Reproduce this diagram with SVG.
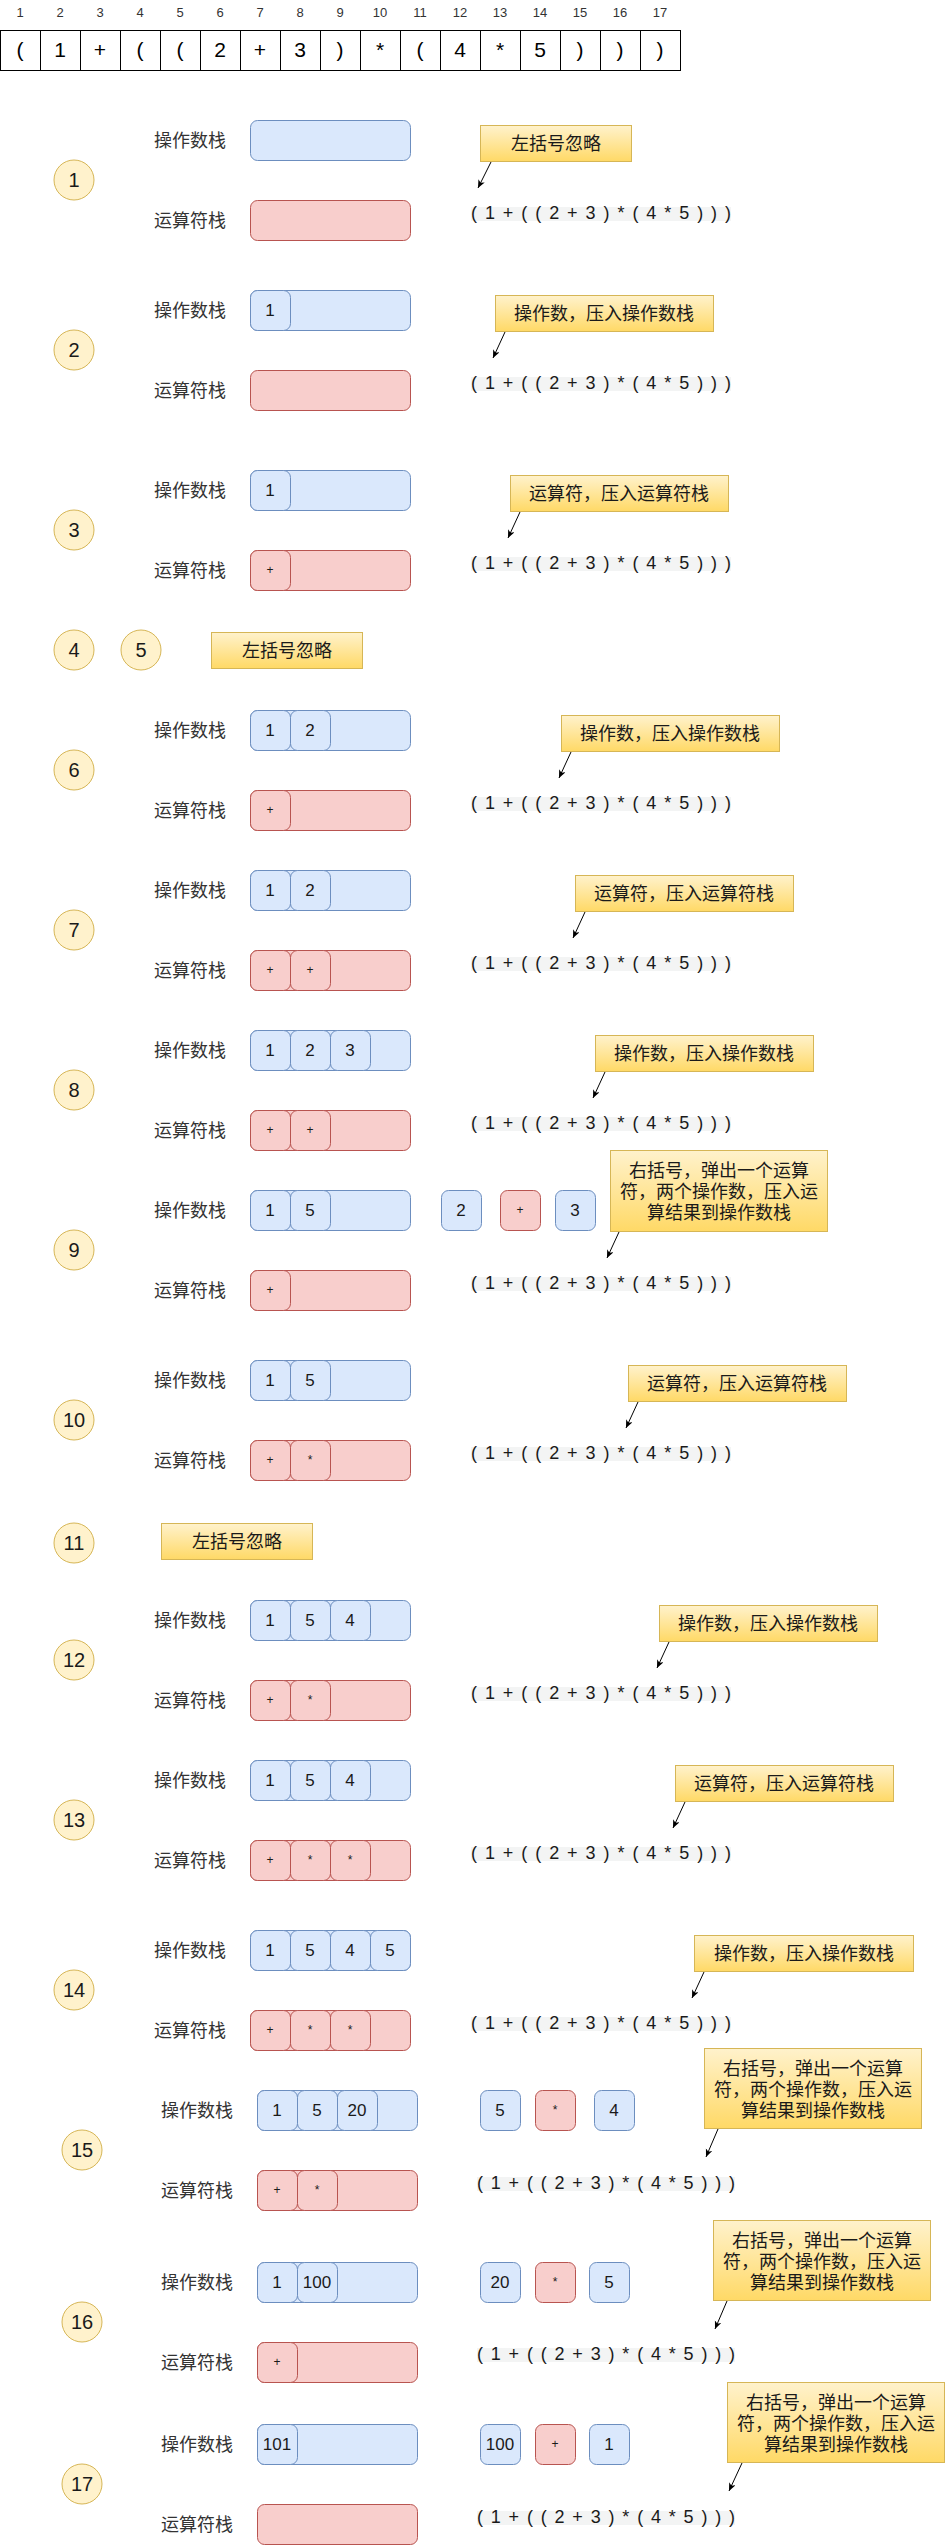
<svg xmlns="http://www.w3.org/2000/svg" width="946" height="2545" viewBox="0 0 946 2545">
<defs>
  <linearGradient id="noteFill" x1="0" y1="0" x2="0" y2="1">
    <stop offset="0" stop-color="#fff2cc"/>
    <stop offset="1" stop-color="#ffd966"/>
  </linearGradient>
  <marker id="arrow" markerUnits="userSpaceOnUse" markerWidth="10" markerHeight="10" refX="8" refY="3.5" orient="auto">
    <path d="M0,0 L8,3.5 L0,7 L2.2,3.5 Z" fill="#000"/>
  </marker>
</defs>
<style>
  text { font-family: "Liberation Sans", "Noto Sans CJK SC", sans-serif; }
  .idx { font-size: 13px; fill: #333; text-anchor: middle; }
  .tok { font-size: 21px; fill: #000; text-anchor: middle; }
  .seq { fill: #fff; stroke: #000; stroke-width: 1; }
  .lbl { font-size: 18px; fill: #333; text-anchor: middle; }
  .step { fill: #fff2cc; stroke: #d6b656; stroke-width: 1; }
  .stepn { font-size: 20px; fill: #1a1a1a; text-anchor: middle; }
  .opnd { fill: #dae8fc; stroke: #6c8ebf; stroke-width: 1; }
  .oper { fill: #f8cecc; stroke: #b85450; stroke-width: 1; }
  .dv { font-size: 17px; fill: #1a1a1a; text-anchor: middle; }
  .ov { font-size: 12px; fill: #1a1a1a; text-anchor: middle; }
  .note { fill: url(#noteFill); stroke: #d6b656; stroke-width: 1; }
  .nt { font-size: 18px; fill: #1a1a1a; text-anchor: middle; }
  .band { fill: #f3f4f4; }
  .expr { font-size: 18px; fill: #1a1a1a; }
  .link { stroke: #000; stroke-width: 1; fill: none; marker-end: url(#arrow); }
</style>
<rect width="946" height="2545" fill="#fff"/>

<!-- input token sequence -->
<g id="sequence">
  <text class="idx" x="20" y="17">1</text><text class="idx" x="60" y="17">2</text><text class="idx" x="100" y="17">3</text><text class="idx" x="140" y="17">4</text><text class="idx" x="180" y="17">5</text><text class="idx" x="220" y="17">6</text><text class="idx" x="260" y="17">7</text><text class="idx" x="300" y="17">8</text><text class="idx" x="340" y="17">9</text><text class="idx" x="380" y="17">10</text><text class="idx" x="420" y="17">11</text><text class="idx" x="460" y="17">12</text><text class="idx" x="500" y="17">13</text><text class="idx" x="540" y="17">14</text><text class="idx" x="580" y="17">15</text><text class="idx" x="620" y="17">16</text><text class="idx" x="660" y="17">17</text>
  <rect class="seq" x="0.5" y="30.5" width="40" height="40"/><rect class="seq" x="40.5" y="30.5" width="40" height="40"/><rect class="seq" x="80.5" y="30.5" width="40" height="40"/><rect class="seq" x="120.5" y="30.5" width="40" height="40"/><rect class="seq" x="160.5" y="30.5" width="40" height="40"/><rect class="seq" x="200.5" y="30.5" width="40" height="40"/><rect class="seq" x="240.5" y="30.5" width="40" height="40"/><rect class="seq" x="280.5" y="30.5" width="40" height="40"/><rect class="seq" x="320.5" y="30.5" width="40" height="40"/><rect class="seq" x="360.5" y="30.5" width="40" height="40"/><rect class="seq" x="400.5" y="30.5" width="40" height="40"/><rect class="seq" x="440.5" y="30.5" width="40" height="40"/><rect class="seq" x="480.5" y="30.5" width="40" height="40"/><rect class="seq" x="520.5" y="30.5" width="40" height="40"/><rect class="seq" x="560.5" y="30.5" width="40" height="40"/><rect class="seq" x="600.5" y="30.5" width="40" height="40"/><rect class="seq" x="640.5" y="30.5" width="40" height="40"/>
  <text class="tok" x="20" y="57">(</text><text class="tok" x="60" y="57">1</text><text class="tok" x="100" y="57">+</text><text class="tok" x="140" y="57">(</text><text class="tok" x="180" y="57">(</text><text class="tok" x="220" y="57">2</text><text class="tok" x="260" y="57">+</text><text class="tok" x="300" y="57">3</text><text class="tok" x="340" y="57">)</text><text class="tok" x="380" y="57">*</text><text class="tok" x="420" y="57">(</text><text class="tok" x="460" y="57">4</text><text class="tok" x="500" y="57">*</text><text class="tok" x="540" y="57">5</text><text class="tok" x="580" y="57">)</text><text class="tok" x="620" y="57">)</text><text class="tok" x="660" y="57">)</text>
</g>

<!-- step 1 -->
<g id="step1">
  <circle class="step" cx="74" cy="180" r="20"/><text class="stepn" x="74" y="187">1</text>
  <text class="lbl" x="190" y="146.5">操作数栈</text><text class="lbl" x="190" y="226.5">运算符栈</text>
  <rect class="opnd" x="250.5" y="120.5" width="160" height="40" rx="7"/>
  <rect class="oper" x="250.5" y="200.5" width="160" height="40" rx="7"/>
  <rect class="note" x="480.5" y="125.5" width="151" height="36"/><text class="nt" x="556" y="149.5">左括号忽略</text>
  <rect class="band" x="471" y="207" width="260" height="14"/><text class="expr" x="471" y="218.5" textLength="260" lengthAdjust="spacing">( 1 + ( ( 2 + 3 ) * ( 4 * 5 ) ) )</text>
</g>

<!-- step 2 -->
<g id="step2">
  <circle class="step" cx="74" cy="350" r="20"/><text class="stepn" x="74" y="357">2</text>
  <text class="lbl" x="190" y="316.5">操作数栈</text><text class="lbl" x="190" y="396.5">运算符栈</text>
  <rect class="opnd" x="250.5" y="290.5" width="160" height="40" rx="7"/>
  <rect class="opnd" x="250.5" y="290.5" width="40" height="40" rx="7"/><text class="dv" x="270" y="316">1</text>
  <rect class="oper" x="250.5" y="370.5" width="160" height="40" rx="7"/>
  <rect class="note" x="495.5" y="295.5" width="218" height="36"/><text class="nt" x="604" y="319.5">操作数，压入操作数栈</text>
  <rect class="band" x="471" y="377" width="260" height="14"/><text class="expr" x="471" y="388.5" textLength="260" lengthAdjust="spacing">( 1 + ( ( 2 + 3 ) * ( 4 * 5 ) ) )</text>
</g>

<!-- step 3 -->
<g id="step3">
  <circle class="step" cx="74" cy="530" r="20"/><text class="stepn" x="74" y="537">3</text>
  <text class="lbl" x="190" y="496.5">操作数栈</text><text class="lbl" x="190" y="576.5">运算符栈</text>
  <rect class="opnd" x="250.5" y="470.5" width="160" height="40" rx="7"/>
  <rect class="opnd" x="250.5" y="470.5" width="40" height="40" rx="7"/><text class="dv" x="270" y="496">1</text>
  <rect class="oper" x="250.5" y="550.5" width="160" height="40" rx="7"/>
  <rect class="oper" x="250.5" y="550.5" width="40" height="40" rx="7"/><text class="ov" x="270" y="574">+</text>
  <rect class="note" x="510.5" y="475.5" width="218" height="36"/><text class="nt" x="619" y="499.5">运算符，压入运算符栈</text>
  <rect class="band" x="471" y="557" width="260" height="14"/><text class="expr" x="471" y="568.5" textLength="260" lengthAdjust="spacing">( 1 + ( ( 2 + 3 ) * ( 4 * 5 ) ) )</text>
</g>

<!-- steps 4 and 5 -->
<g id="step4">
  <circle class="step" cx="74" cy="650" r="20"/><text class="stepn" x="74" y="657">4</text>
</g>
<g id="step5">
  <circle class="step" cx="141" cy="650" r="20"/><text class="stepn" x="141" y="657">5</text>
  <rect class="note" x="211.5" y="632.5" width="151" height="36"/><text class="nt" x="287" y="656.5">左括号忽略</text>
</g>

<!-- step 6 -->
<g id="step6">
  <circle class="step" cx="74" cy="770" r="20"/><text class="stepn" x="74" y="777">6</text>
  <text class="lbl" x="190" y="736.5">操作数栈</text><text class="lbl" x="190" y="816.5">运算符栈</text>
  <rect class="opnd" x="250.5" y="710.5" width="160" height="40" rx="7"/>
  <rect class="opnd" x="250.5" y="710.5" width="40" height="40" rx="7"/><text class="dv" x="270" y="736">1</text>
  <rect class="opnd" x="290.5" y="710.5" width="40" height="40" rx="7"/><text class="dv" x="310" y="736">2</text>
  <rect class="oper" x="250.5" y="790.5" width="160" height="40" rx="7"/>
  <rect class="oper" x="250.5" y="790.5" width="40" height="40" rx="7"/><text class="ov" x="270" y="814">+</text>
  <rect class="note" x="561.5" y="715.5" width="218" height="36"/><text class="nt" x="670" y="739.5">操作数，压入操作数栈</text>
  <rect class="band" x="471" y="797" width="260" height="14"/><text class="expr" x="471" y="808.5" textLength="260" lengthAdjust="spacing">( 1 + ( ( 2 + 3 ) * ( 4 * 5 ) ) )</text>
</g>

<!-- step 7 -->
<g id="step7">
  <circle class="step" cx="74" cy="930" r="20"/><text class="stepn" x="74" y="937">7</text>
  <text class="lbl" x="190" y="896.5">操作数栈</text><text class="lbl" x="190" y="976.5">运算符栈</text>
  <rect class="opnd" x="250.5" y="870.5" width="160" height="40" rx="7"/>
  <rect class="opnd" x="250.5" y="870.5" width="40" height="40" rx="7"/><text class="dv" x="270" y="896">1</text>
  <rect class="opnd" x="290.5" y="870.5" width="40" height="40" rx="7"/><text class="dv" x="310" y="896">2</text>
  <rect class="oper" x="250.5" y="950.5" width="160" height="40" rx="7"/>
  <rect class="oper" x="250.5" y="950.5" width="40" height="40" rx="7"/><text class="ov" x="270" y="974">+</text>
  <rect class="oper" x="290.5" y="950.5" width="40" height="40" rx="7"/><text class="ov" x="310" y="974">+</text>
  <rect class="note" x="575.5" y="875.5" width="218" height="36"/><text class="nt" x="684" y="899.5">运算符，压入运算符栈</text>
  <rect class="band" x="471" y="957" width="260" height="14"/><text class="expr" x="471" y="968.5" textLength="260" lengthAdjust="spacing">( 1 + ( ( 2 + 3 ) * ( 4 * 5 ) ) )</text>
</g>

<!-- step 8 -->
<g id="step8">
  <circle class="step" cx="74" cy="1090" r="20"/><text class="stepn" x="74" y="1097">8</text>
  <text class="lbl" x="190" y="1056.5">操作数栈</text><text class="lbl" x="190" y="1136.5">运算符栈</text>
  <rect class="opnd" x="250.5" y="1030.5" width="160" height="40" rx="7"/>
  <rect class="opnd" x="250.5" y="1030.5" width="40" height="40" rx="7"/><text class="dv" x="270" y="1056">1</text>
  <rect class="opnd" x="290.5" y="1030.5" width="40" height="40" rx="7"/><text class="dv" x="310" y="1056">2</text>
  <rect class="opnd" x="330.5" y="1030.5" width="40" height="40" rx="7"/><text class="dv" x="350" y="1056">3</text>
  <rect class="oper" x="250.5" y="1110.5" width="160" height="40" rx="7"/>
  <rect class="oper" x="250.5" y="1110.5" width="40" height="40" rx="7"/><text class="ov" x="270" y="1134">+</text>
  <rect class="oper" x="290.5" y="1110.5" width="40" height="40" rx="7"/><text class="ov" x="310" y="1134">+</text>
  <rect class="note" x="595.5" y="1035.5" width="218" height="36"/><text class="nt" x="704" y="1059.5">操作数，压入操作数栈</text>
  <rect class="band" x="471" y="1117" width="260" height="14"/><text class="expr" x="471" y="1128.5" textLength="260" lengthAdjust="spacing">( 1 + ( ( 2 + 3 ) * ( 4 * 5 ) ) )</text>
</g>

<!-- step 9 -->
<g id="step9">
  <circle class="step" cx="74" cy="1250" r="20"/><text class="stepn" x="74" y="1257">9</text>
  <text class="lbl" x="190" y="1216.5">操作数栈</text><text class="lbl" x="190" y="1296.5">运算符栈</text>
  <rect class="opnd" x="250.5" y="1190.5" width="160" height="40" rx="7"/>
  <rect class="opnd" x="250.5" y="1190.5" width="40" height="40" rx="7"/><text class="dv" x="270" y="1216">1</text>
  <rect class="opnd" x="290.5" y="1190.5" width="40" height="40" rx="7"/><text class="dv" x="310" y="1216">5</text>
  <rect class="oper" x="250.5" y="1270.5" width="160" height="40" rx="7"/>
  <rect class="oper" x="250.5" y="1270.5" width="40" height="40" rx="7"/><text class="ov" x="270" y="1294">+</text>
  <rect class="opnd" x="441.5" y="1190.5" width="40" height="40" rx="7"/><text class="dv" x="461" y="1216">2</text>
  <rect class="oper" x="500.5" y="1190.5" width="40" height="40" rx="7"/><text class="ov" x="520" y="1214">+</text>
  <rect class="opnd" x="555.5" y="1190.5" width="40" height="40" rx="7"/><text class="dv" x="575" y="1216">3</text>
  <rect class="note" x="610.5" y="1150.5" width="217" height="81"/>
  <text class="nt" x="719" y="1176.5">右括号，弹出一个运算</text><text class="nt" x="719" y="1197.5">符，两个操作数，压入运</text><text class="nt" x="719" y="1218.5">算结果到操作数栈</text>
  <rect class="band" x="471" y="1277" width="260" height="14"/><text class="expr" x="471" y="1288.5" textLength="260" lengthAdjust="spacing">( 1 + ( ( 2 + 3 ) * ( 4 * 5 ) ) )</text>
</g>

<!-- step 10 -->
<g id="step10">
  <circle class="step" cx="74" cy="1420" r="20"/><text class="stepn" x="74" y="1427">10</text>
  <text class="lbl" x="190" y="1386.5">操作数栈</text><text class="lbl" x="190" y="1466.5">运算符栈</text>
  <rect class="opnd" x="250.5" y="1360.5" width="160" height="40" rx="7"/>
  <rect class="opnd" x="250.5" y="1360.5" width="40" height="40" rx="7"/><text class="dv" x="270" y="1386">1</text>
  <rect class="opnd" x="290.5" y="1360.5" width="40" height="40" rx="7"/><text class="dv" x="310" y="1386">5</text>
  <rect class="oper" x="250.5" y="1440.5" width="160" height="40" rx="7"/>
  <rect class="oper" x="250.5" y="1440.5" width="40" height="40" rx="7"/><text class="ov" x="270" y="1464">+</text>
  <rect class="oper" x="290.5" y="1440.5" width="40" height="40" rx="7"/><text class="ov" x="310" y="1464">*</text>
  <rect class="note" x="628.5" y="1365.5" width="218" height="36"/><text class="nt" x="737" y="1389.5">运算符，压入运算符栈</text>
  <rect class="band" x="471" y="1447" width="260" height="14"/><text class="expr" x="471" y="1458.5" textLength="260" lengthAdjust="spacing">( 1 + ( ( 2 + 3 ) * ( 4 * 5 ) ) )</text>
</g>

<!-- step 11 -->
<g id="step11">
  <circle class="step" cx="74" cy="1543" r="20"/><text class="stepn" x="74" y="1550">11</text>
  <rect class="note" x="161.5" y="1523.5" width="151" height="36"/><text class="nt" x="237" y="1547.5">左括号忽略</text>
</g>

<!-- step 12 -->
<g id="step12">
  <circle class="step" cx="74" cy="1660" r="20"/><text class="stepn" x="74" y="1667">12</text>
  <text class="lbl" x="190" y="1626.5">操作数栈</text><text class="lbl" x="190" y="1706.5">运算符栈</text>
  <rect class="opnd" x="250.5" y="1600.5" width="160" height="40" rx="7"/>
  <rect class="opnd" x="250.5" y="1600.5" width="40" height="40" rx="7"/><text class="dv" x="270" y="1626">1</text>
  <rect class="opnd" x="290.5" y="1600.5" width="40" height="40" rx="7"/><text class="dv" x="310" y="1626">5</text>
  <rect class="opnd" x="330.5" y="1600.5" width="40" height="40" rx="7"/><text class="dv" x="350" y="1626">4</text>
  <rect class="oper" x="250.5" y="1680.5" width="160" height="40" rx="7"/>
  <rect class="oper" x="250.5" y="1680.5" width="40" height="40" rx="7"/><text class="ov" x="270" y="1704">+</text>
  <rect class="oper" x="290.5" y="1680.5" width="40" height="40" rx="7"/><text class="ov" x="310" y="1704">*</text>
  <rect class="note" x="659.5" y="1605.5" width="218" height="36"/><text class="nt" x="768" y="1629.5">操作数，压入操作数栈</text>
  <rect class="band" x="471" y="1687" width="260" height="14"/><text class="expr" x="471" y="1698.5" textLength="260" lengthAdjust="spacing">( 1 + ( ( 2 + 3 ) * ( 4 * 5 ) ) )</text>
</g>

<!-- step 13 -->
<g id="step13">
  <circle class="step" cx="74" cy="1820" r="20"/><text class="stepn" x="74" y="1827">13</text>
  <text class="lbl" x="190" y="1786.5">操作数栈</text><text class="lbl" x="190" y="1866.5">运算符栈</text>
  <rect class="opnd" x="250.5" y="1760.5" width="160" height="40" rx="7"/>
  <rect class="opnd" x="250.5" y="1760.5" width="40" height="40" rx="7"/><text class="dv" x="270" y="1786">1</text>
  <rect class="opnd" x="290.5" y="1760.5" width="40" height="40" rx="7"/><text class="dv" x="310" y="1786">5</text>
  <rect class="opnd" x="330.5" y="1760.5" width="40" height="40" rx="7"/><text class="dv" x="350" y="1786">4</text>
  <rect class="oper" x="250.5" y="1840.5" width="160" height="40" rx="7"/>
  <rect class="oper" x="250.5" y="1840.5" width="40" height="40" rx="7"/><text class="ov" x="270" y="1864">+</text>
  <rect class="oper" x="290.5" y="1840.5" width="40" height="40" rx="7"/><text class="ov" x="310" y="1864">*</text>
  <rect class="oper" x="330.5" y="1840.5" width="40" height="40" rx="7"/><text class="ov" x="350" y="1864">*</text>
  <rect class="note" x="675.5" y="1765.5" width="218" height="36"/><text class="nt" x="784" y="1789.5">运算符，压入运算符栈</text>
  <rect class="band" x="471" y="1847" width="260" height="14"/><text class="expr" x="471" y="1858.5" textLength="260" lengthAdjust="spacing">( 1 + ( ( 2 + 3 ) * ( 4 * 5 ) ) )</text>
</g>

<!-- step 14 -->
<g id="step14">
  <circle class="step" cx="74" cy="1990" r="20"/><text class="stepn" x="74" y="1997">14</text>
  <text class="lbl" x="190" y="1956.5">操作数栈</text><text class="lbl" x="190" y="2036.5">运算符栈</text>
  <rect class="opnd" x="250.5" y="1930.5" width="160" height="40" rx="7"/>
  <rect class="opnd" x="250.5" y="1930.5" width="40" height="40" rx="7"/><text class="dv" x="270" y="1956">1</text>
  <rect class="opnd" x="290.5" y="1930.5" width="40" height="40" rx="7"/><text class="dv" x="310" y="1956">5</text>
  <rect class="opnd" x="330.5" y="1930.5" width="40" height="40" rx="7"/><text class="dv" x="350" y="1956">4</text>
  <rect class="opnd" x="370.5" y="1930.5" width="40" height="40" rx="7"/><text class="dv" x="390" y="1956">5</text>
  <rect class="oper" x="250.5" y="2010.5" width="160" height="40" rx="7"/>
  <rect class="oper" x="250.5" y="2010.5" width="40" height="40" rx="7"/><text class="ov" x="270" y="2034">+</text>
  <rect class="oper" x="290.5" y="2010.5" width="40" height="40" rx="7"/><text class="ov" x="310" y="2034">*</text>
  <rect class="oper" x="330.5" y="2010.5" width="40" height="40" rx="7"/><text class="ov" x="350" y="2034">*</text>
  <rect class="note" x="694.5" y="1935.5" width="219" height="36"/><text class="nt" x="804" y="1959.5">操作数，压入操作数栈</text>
  <rect class="band" x="471" y="2017" width="260" height="14"/><text class="expr" x="471" y="2028.5" textLength="260" lengthAdjust="spacing">( 1 + ( ( 2 + 3 ) * ( 4 * 5 ) ) )</text>
</g>

<!-- step 15 -->
<g id="step15">
  <circle class="step" cx="82" cy="2150" r="20"/><text class="stepn" x="82" y="2157">15</text>
  <text class="lbl" x="197" y="2116.5">操作数栈</text><text class="lbl" x="197" y="2196.5">运算符栈</text>
  <rect class="opnd" x="257.5" y="2090.5" width="160" height="40" rx="7"/>
  <rect class="opnd" x="257.5" y="2090.5" width="40" height="40" rx="7"/><text class="dv" x="277" y="2116">1</text>
  <rect class="opnd" x="297.5" y="2090.5" width="40" height="40" rx="7"/><text class="dv" x="317" y="2116">5</text>
  <rect class="opnd" x="337.5" y="2090.5" width="40" height="40" rx="7"/><text class="dv" x="357" y="2116">20</text>
  <rect class="oper" x="257.5" y="2170.5" width="160" height="40" rx="7"/>
  <rect class="oper" x="257.5" y="2170.5" width="40" height="40" rx="7"/><text class="ov" x="277" y="2194">+</text>
  <rect class="oper" x="297.5" y="2170.5" width="40" height="40" rx="7"/><text class="ov" x="317" y="2194">*</text>
  <rect class="opnd" x="480.5" y="2090.5" width="40" height="40" rx="7"/><text class="dv" x="500" y="2116">5</text>
  <rect class="oper" x="535.5" y="2090.5" width="40" height="40" rx="7"/><text class="ov" x="555" y="2114">*</text>
  <rect class="opnd" x="594.5" y="2090.5" width="40" height="40" rx="7"/><text class="dv" x="614" y="2116">4</text>
  <rect class="note" x="704.5" y="2048.5" width="217" height="80"/>
  <text class="nt" x="813" y="2074.5">右括号，弹出一个运算</text><text class="nt" x="813" y="2095.5">符，两个操作数，压入运</text><text class="nt" x="813" y="2116.5">算结果到操作数栈</text>
  <rect class="band" x="477" y="2177" width="258" height="14"/><text class="expr" x="477" y="2188.5" textLength="258" lengthAdjust="spacing">( 1 + ( ( 2 + 3 ) * ( 4 * 5 ) ) )</text>
</g>

<!-- step 16 -->
<g id="step16">
  <circle class="step" cx="82" cy="2322" r="20"/><text class="stepn" x="82" y="2329">16</text>
  <text class="lbl" x="197" y="2288.5">操作数栈</text><text class="lbl" x="197" y="2368.5">运算符栈</text>
  <rect class="opnd" x="257.5" y="2262.5" width="160" height="40" rx="7"/>
  <rect class="opnd" x="257.5" y="2262.5" width="40" height="40" rx="7"/><text class="dv" x="277" y="2288">1</text>
  <rect class="opnd" x="297.5" y="2262.5" width="40" height="40" rx="7"/><text class="dv" x="317" y="2288">100</text>
  <rect class="oper" x="257.5" y="2342.5" width="160" height="40" rx="7"/>
  <rect class="oper" x="257.5" y="2342.5" width="40" height="40" rx="7"/><text class="ov" x="277" y="2366">+</text>
  <rect class="opnd" x="480.5" y="2262.5" width="40" height="40" rx="7"/><text class="dv" x="500" y="2288">20</text>
  <rect class="oper" x="535.5" y="2262.5" width="40" height="40" rx="7"/><text class="ov" x="555" y="2286">*</text>
  <rect class="opnd" x="589.5" y="2262.5" width="40" height="40" rx="7"/><text class="dv" x="609" y="2288">5</text>
  <rect class="note" x="713.5" y="2220.5" width="217" height="80"/>
  <text class="nt" x="822" y="2246.5">右括号，弹出一个运算</text><text class="nt" x="822" y="2267.5">符，两个操作数，压入运</text><text class="nt" x="822" y="2288.5">算结果到操作数栈</text>
  <rect class="band" x="477" y="2348" width="258" height="14"/><text class="expr" x="477" y="2359.5" textLength="258" lengthAdjust="spacing">( 1 + ( ( 2 + 3 ) * ( 4 * 5 ) ) )</text>
</g>

<!-- step 17 -->
<g id="step17">
  <circle class="step" cx="82" cy="2484" r="20"/><text class="stepn" x="82" y="2491">17</text>
  <text class="lbl" x="197" y="2450.5">操作数栈</text><text class="lbl" x="197" y="2530.5">运算符栈</text>
  <rect class="opnd" x="257.5" y="2424.5" width="160" height="40" rx="7"/>
  <rect class="opnd" x="257.5" y="2424.5" width="40" height="40" rx="7"/><text class="dv" x="277" y="2450">101</text>
  <rect class="oper" x="257.5" y="2504.5" width="160" height="40" rx="7"/>
  <rect class="opnd" x="480.5" y="2424.5" width="40" height="40" rx="7"/><text class="dv" x="500" y="2450">100</text>
  <rect class="oper" x="535.5" y="2424.5" width="40" height="40" rx="7"/><text class="ov" x="555" y="2448">+</text>
  <rect class="opnd" x="589.5" y="2424.5" width="40" height="40" rx="7"/><text class="dv" x="609" y="2450">1</text>
  <rect class="note" x="727.5" y="2382.5" width="217" height="80"/>
  <text class="nt" x="836" y="2408.5">右括号，弹出一个运算</text><text class="nt" x="836" y="2429.5">符，两个操作数，压入运</text><text class="nt" x="836" y="2450.5">算结果到操作数栈</text>
  <rect class="band" x="477" y="2511" width="258" height="14"/><text class="expr" x="477" y="2522.5" textLength="258" lengthAdjust="spacing">( 1 + ( ( 2 + 3 ) * ( 4 * 5 ) ) )</text>
</g>

<!-- note pointers -->
<g id="connectors">
  <line class="link" x1="491" y1="162" x2="478" y2="188"/>
  <line class="link" x1="505" y1="332" x2="493" y2="358"/>
  <line class="link" x1="520" y1="512" x2="508" y2="538"/>
  <line class="link" x1="571" y1="752" x2="559" y2="778"/>
  <line class="link" x1="585" y1="912" x2="573" y2="938"/>
  <line class="link" x1="605" y1="1072" x2="593" y2="1098"/>
  <line class="link" x1="619" y1="1232" x2="607" y2="1258"/>
  <line class="link" x1="638" y1="1402" x2="626" y2="1428"/>
  <line class="link" x1="669" y1="1642" x2="657" y2="1668"/>
  <line class="link" x1="685" y1="1802" x2="673" y2="1828"/>
  <line class="link" x1="704" y1="1972" x2="692" y2="1998"/>
  <line class="link" x1="718" y1="2129" x2="706" y2="2157"/>
  <line class="link" x1="727" y1="2301" x2="715" y2="2329"/>
  <line class="link" x1="742" y1="2463" x2="729" y2="2491"/>
</g>
</svg>
